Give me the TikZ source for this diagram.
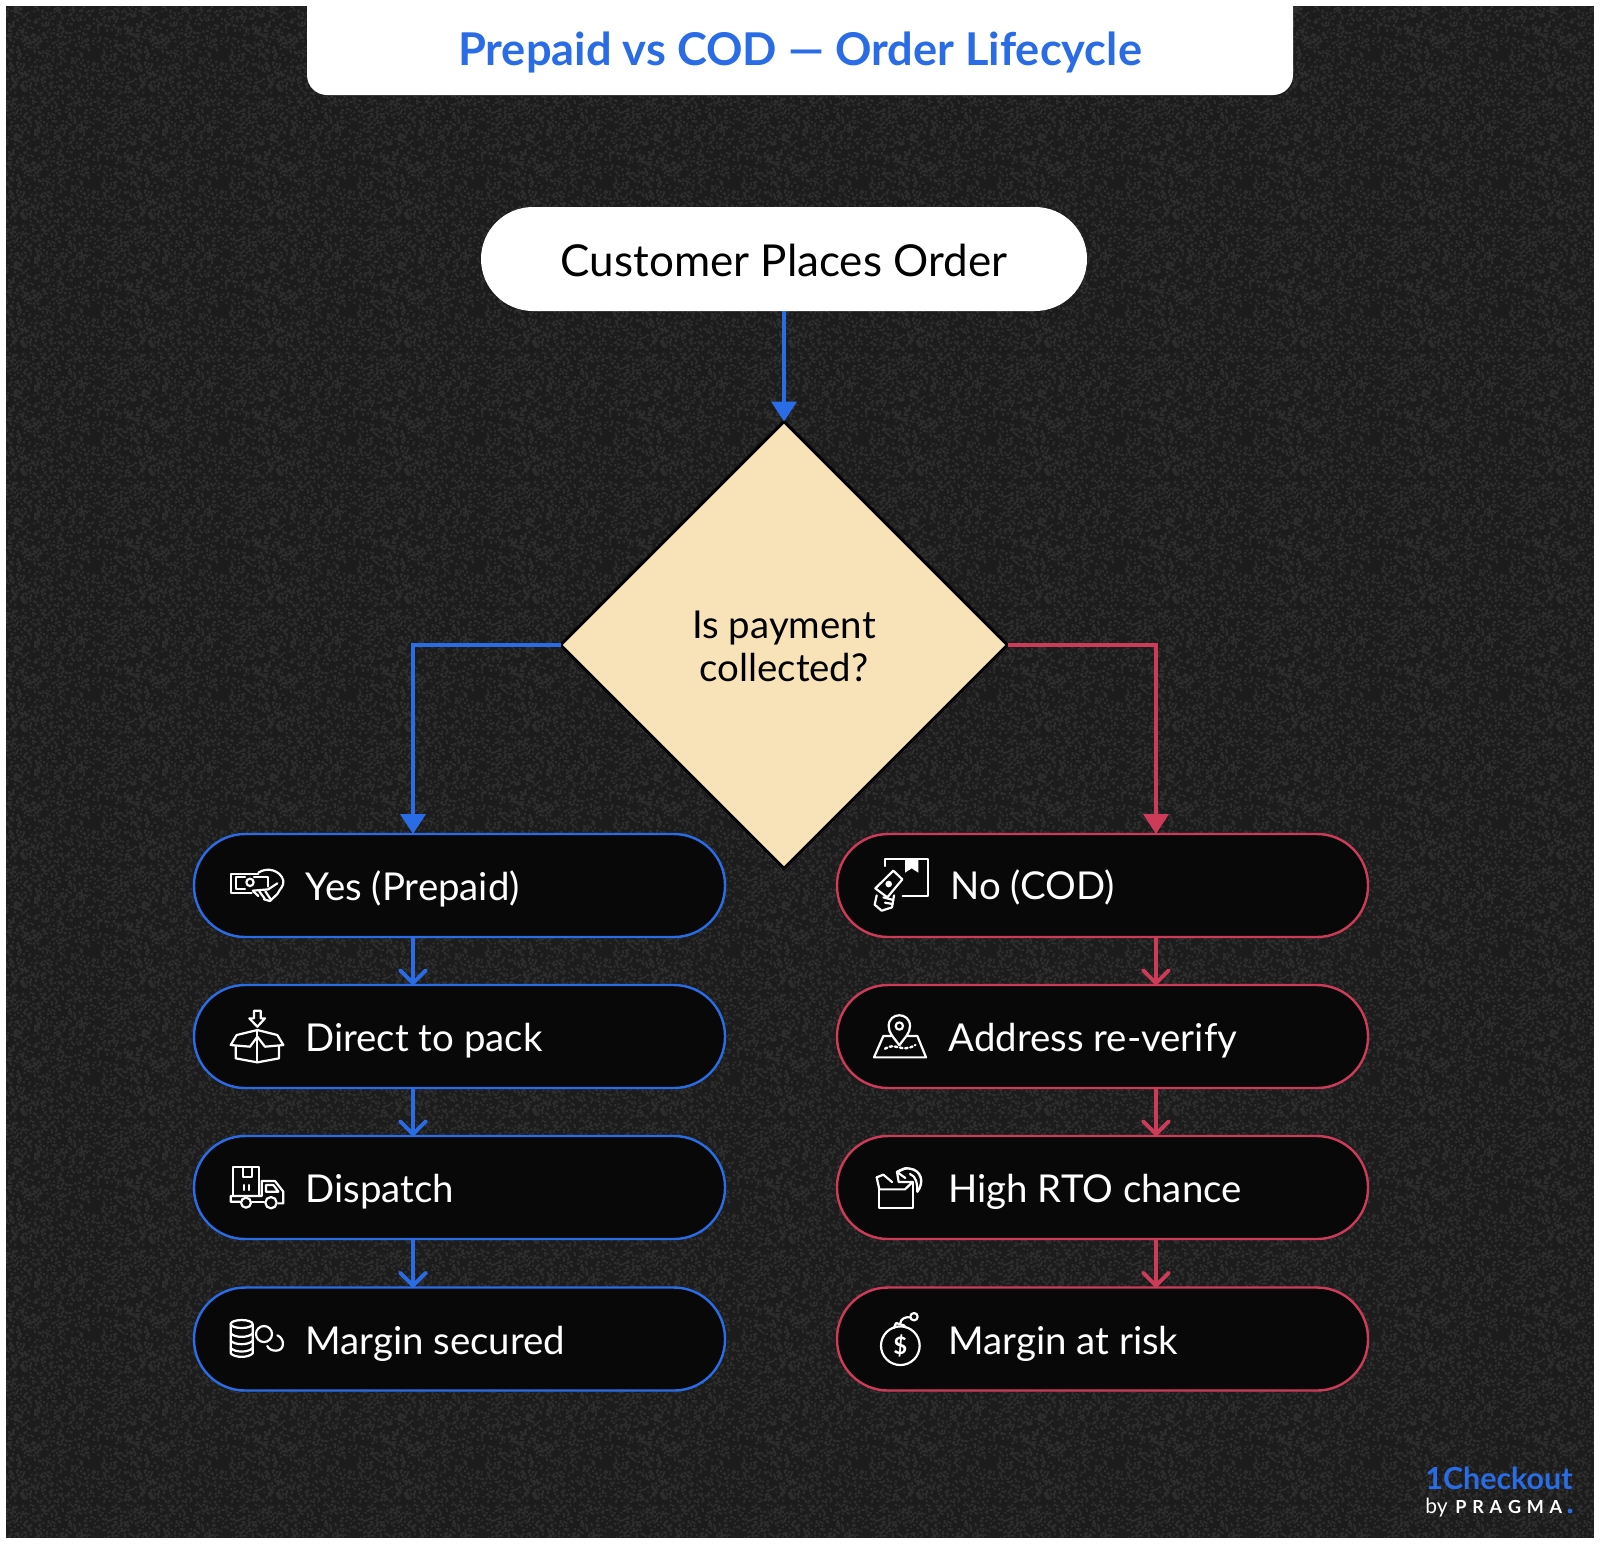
\documentclass[tikz,border=0pt]{standalone}
\usepackage{fontspec}
\setmainfont{Lato}
\usetikzlibrary{shapes.geometric,arrows.meta,calc}
\definecolor{pillbg}{HTML}{080808}
\definecolor{panel}{HTML}{1C1C1C}
\definecolor{bluec}{HTML}{2A6CE6}
\definecolor{redc}{HTML}{CE3B59}
\definecolor{sand}{HTML}{F8E2B7}
\newsavebox{\grainbox}
\makeatletter
\AtBeginDocument{%
  \gdef\graindata{}%
  \pgfmathsetseed{7}%
  \foreach \i in {1,...,1400}{%
    \pgfmathparse{int(rnd*630)/10}\let\ga\pgfmathresult
    \pgfmathparse{int(rnd*630)/10}\let\gb\pgfmathresult
    \xdef\graindata{\graindata\ga\space\gb\space 1 1 re }%
  }%
  \global\sbox{\grainbox}{%
    \begin{pgfpicture}%
      \pgfsys@invoke{q 0.18 g \graindata f Q }%
      \pgfpathrectangle{\pgfqpoint{0pt}{0pt}}{\pgfqpoint{64pt}{64pt}}\pgfusepath{use as bounding box}%
    \end{pgfpicture}}}
\makeatother
\tikzset{
  pill/.style={rectangle,rounded corners=25.5pt,minimum width=265.5pt,minimum height=51.5pt,inner sep=0pt,outer sep=0pt,fill=pillbg,line width=1.2pt},
  pilltxt/.style={anchor=base west,inner sep=0pt,text=white,font=\fontsize{19.2pt}{22pt}\selectfont},
  flow/.style={line width=1.9pt},
  solidtip/.style={-{Triangle[length=10pt,width=12.5pt]}},
  opentip/.style={-{Straight Barb[length=6.5pt,width=13pt,round]}},
  icon/.style={draw=white,line width=1.1pt,line cap=round,line join=round},
  iconframe/.style={x=0.16667pt,y=-0.16667pt}
}
\begin{document}
\begin{tikzpicture}[x=0.5pt,y=-0.5pt]
\useasboundingbox (0,0) rectangle (1600,1544);
\fill[panel] (6,6) rectangle (1594,1538);
\foreach \ix in {0,...,12}{\foreach \iy in {0,...,12}{%
  \pgfmathsetmacro\tx{\ix*64-16}\pgfmathsetmacro\ty{-(\iy+1)*64+16}%
  \pgftext[at=\pgfpoint{\tx pt}{\ty pt},left,bottom]{\usebox{\grainbox}}%
}}
% page margin round the panel
\fill[white] (-60,-60) rectangle (1660,6);
\fill[white] (-60,1538) rectangle (1660,1640);
\fill[white] (-60,-60) rectangle (6,1640);
\fill[white] (1594,-60) rectangle (1660,1640);
% title tab
\fill[white,rounded corners=10pt] (307,-30) rectangle (1293,95);
\node[text=bluec,inner sep=0pt,anchor=base,font=\fontsize{22.6pt}{26pt}\selectfont\bfseries] (title) at (800,65) {Prepaid vs COD — Order Lifecycle};
% start
\node[rectangle,rounded corners=26pt,minimum width=303pt,minimum height=52pt,inner sep=0pt,outer sep=0pt,fill=white] (start) at (784,259) {};
\node[anchor=base,inner sep=0pt,text=black,font=\fontsize{22pt}{26pt}\selectfont] (startT) at (784,276) {Customer Places Order};
% decision
\node[diamond,aspect=1,minimum width=223.5pt,minimum height=223.5pt,inner sep=0pt,outer sep=0pt,fill=sand,draw=black,line width=1.5pt] (dec) at (784,645) {};
\node[anchor=base,inner sep=0pt,text=black,font=\fontsize{19.2pt}{22pt}\selectfont] (decA) at (784,638) {Is payment};
\node[anchor=base,inner sep=0pt,text=black,font=\fontsize{19.2pt}{22pt}\selectfont] (decB) at (784,681) {collected?};
% pills
\node[pill,draw=bluec] (y1) at (459.5,885.5) {};
\node[pill,draw=bluec] (y2) at (459.5,1036.5) {};
\node[pill,draw=bluec] (y3) at (459.5,1187.5) {};
\node[pill,draw=bluec] (y4) at (459.5,1339) {};
\node[pill,draw=redc] (n1) at (1102.5,885.5) {};
\node[pill,draw=redc] (n2) at (1102.5,1036.5) {};
\node[pill,draw=redc] (n3) at (1102.5,1187.5) {};
\node[pill,draw=redc] (n4) at (1102.5,1339) {};
\node[pilltxt] (y1T) at (305,900) {Yes (Prepaid)};
\node[pilltxt] (y2T) at (305,1051) {Direct to pack};
\node[pilltxt] (y3T) at (305,1202) {Dispatch};
\node[pilltxt] (y4T) at (305,1354) {Margin secured};
\node[pilltxt] (n1T) at (950,899) {No (COD)};
\node[pilltxt] (n2T) at (948,1051) {Address re-verify};
\node[pilltxt] (n3T) at (948,1202) {High RTO chance};
\node[pilltxt] (n4T) at (948,1354) {Margin at risk};
% connectors
\coordinate (lx) at (413,0);
\coordinate (rx) at (1156,0);
\draw[flow,bluec,solidtip] (start.south) -- (dec.north);
\draw[flow,bluec,solidtip] (dec.west) -| (y1.north -| lx);
\draw[flow,redc,solidtip] (dec.east) -| (n1.north -| rx);
\draw[flow,bluec,opentip] (y1.south -| lx) -- (y2.north -| lx);
\draw[flow,bluec,opentip] (y2.south -| lx) -- (y3.north -| lx);
\draw[flow,bluec,opentip] (y3.south -| lx) -- (y4.north -| lx);
\draw[flow,redc,opentip] (n1.south -| rx) -- (n2.north -| rx);
\draw[flow,redc,opentip] (n2.south -| rx) -- (n3.north -| rx);
\draw[flow,redc,opentip] (n3.south -| rx) -- (n4.north -| rx);
% icon: money in hand
\begin{scope}[shift={(190,820)},iconframe]
\draw[icon] (205,162) -- (122,162) -- (122,218) -- (185,218);
\draw[icon] (165,172) -- (137,172) -- (137,207) -- (165,207);
\draw[icon] (192,172) -- (235,172) -- (235,200);
\draw[icon] (180,187) circle[radius=11];
\draw[icon] (205,158) .. controls (230,140) and (272,150) .. (280,182) .. controls (282,200) and (270,205) .. (262,222) -- (240,243) -- (222,238);
\draw[icon] (188,212) -- (235,208) -- (262,190);
\draw[icon] (190,214) -- (205,228) (208,214) -- (224,236) (226,214) -- (242,238);
\end{scope}
% icon: box with arrow
\begin{scope}[shift={(190,820)},iconframe]
\draw[icon] (192,572) -- (212,572) -- (212,595) -- (225,595) -- (202,620) -- (178,595) -- (192,595) -- cycle;
\draw[icon] (137,678) -- (137,715) -- (202,727) -- (267,715) -- (267,678);
\draw[icon] (202,630) -- (202,727);
\draw[icon] (202,630) -- (140,645) -- (122,675) -- (180,680) -- (202,650) -- (225,680) -- (280,675) -- (262,645) -- cycle;
\end{scope}
% icon: truck
\begin{scope}[shift={(190,1120)},iconframe]
\draw[icon] (130,228) -- (130,140) -- (208,140) -- (208,228);
\draw[icon] (160,142) -- (160,172) -- (185,172) -- (185,142);
\draw[icon] (163,195) -- (163,210) (178,195) -- (178,210);
\draw[icon] (150,245) -- (122,245) -- (122,228) -- (215,228) -- (215,183) -- (255,183) -- (280,215) -- (280,250) -- (265,250);
\draw[icon] (187,245) -- (222,245);
\draw[icon] (228,195) -- (250,195) -- (265,215) -- (228,215) -- cycle;
\draw[icon] (168,248) circle[radius=15];
\draw[icon] (243,248) circle[radius=17];
\end{scope}
% icon: coins
\begin{scope}[shift={(190,1120)},iconframe]
\draw[icon] (155,612) ellipse[x radius=33,y radius=12];
\draw[icon] (122,612) -- (122,700) .. controls (135,714) and (175,714) .. (188,700) -- (188,612);
\draw[icon] (122,640) .. controls (135,654) and (175,654) .. (188,640);
\draw[icon] (122,662) .. controls (135,676) and (175,676) .. (188,662);
\draw[icon] (122,684) .. controls (135,698) and (175,698) .. (188,684);
\draw[icon] (222,642) circle[radius=24];
\draw[icon] (262,646) .. controls (285,655) and (285,692) .. (258,692) .. controls (245,692) and (235,686) .. (232,678);
\end{scope}
% icon: COD hand and parcel
\begin{scope}[shift={(830,820)},iconframe]
\draw[icon] (165,138) -- (165,118) -- (295,118) -- (295,228) -- (218,228);
\fill[white] (225,118) -- (265,118) -- (265,158) -- (245,145) -- (225,158) -- cycle;
\draw[icon] (190,152) -- (217,178) -- (172,232) -- (136,205) -- cycle;
\fill[white] (176,192) circle[radius=10];
\draw[icon] (140,226) -- (134,254) -- (155,272) -- (186,262) -- (192,226);
\draw[icon] (160,232) -- (190,240);
\draw[icon] (165,248) -- (188,252);
\end{scope}
% icon: map pin
\begin{scope}[shift={(830,820)},iconframe]
\draw[icon] (208,676) .. controls (190,650) and (176,640) .. (176,618) .. controls (176,575) and (240,575) .. (240,618) .. controls (240,640) and (226,650) .. (208,676) -- cycle;
\draw[icon] (208,618) circle[radius=11];
\draw[icon] (184,648) -- (160,648) -- (132,712) -- (288,712) -- (262,648) -- (232,648);
\draw[line width=1.2pt,white,dash pattern=on 1.2pt off 1.4pt,line cap=round] (165,686) .. controls (195,665) and (215,700) .. (256,675);
\end{scope}
% icon: returned box
\begin{scope}[shift={(830,1120)},iconframe]
\draw[icon] (148,208) -- (148,264) -- (248,264) -- (248,186);
\draw[icon] (140,172) -- (148,208) -- (225,208) -- (248,186) -- (206,186);
\draw[icon] (140,172) -- (160,164) -- (186,186);
\draw[icon] (206,186) -- (201,156);
\draw[icon,line width=1.2pt] (201,156) .. controls (215,148) and (228,142) .. (240,146) .. controls (272,150) and (285,185) .. (262,215);
\draw[icon] (240,162) .. controls (258,168) and (262,190) .. (262,215);
\draw[icon] (201,156) -- (226,174) (201,156) -- (228,144);
\end{scope}
% icon: money bomb
\begin{scope}[shift={(830,1120)},iconframe]
\draw[icon] (211,677) circle[radius=58];
\draw[icon] (192,624) -- (198,609) -- (222,616) -- (226,622);
\draw[icon] (210,612) .. controls (212,595) and (226,590) .. (241,592);
\draw[icon] (252,590) circle[radius=11];
\node[inner sep=0pt,text=white,font=\fontsize{12pt}{14pt}\selectfont\bfseries] (bombT) at (211,677) {\$};
\end{scope}
% logo
\node[anchor=base west,inner sep=0pt,text=bluec,font=\fontsize{15.2pt}{18pt}\selectfont\bfseries] (logoA) at (1425,1489) {1Checkout};
\node[anchor=base west,inner sep=0pt,text=white,font=\fontsize{10.5pt}{12pt}\selectfont] (logoB) at (1425,1513) {by};
\node[anchor=base west,inner sep=0pt,text=white,font=\fontsize{9pt}{11pt}\selectfont\bfseries,align=left] (logoC) at (1455,1513) {P\hspace{2.9pt}R\hspace{2.9pt}A\hspace{2.9pt}G\hspace{2.9pt}M\hspace{2.9pt}A};
\fill[bluec] (1570,1511) circle[radius=2.4];
\end{tikzpicture}
\end{document}
